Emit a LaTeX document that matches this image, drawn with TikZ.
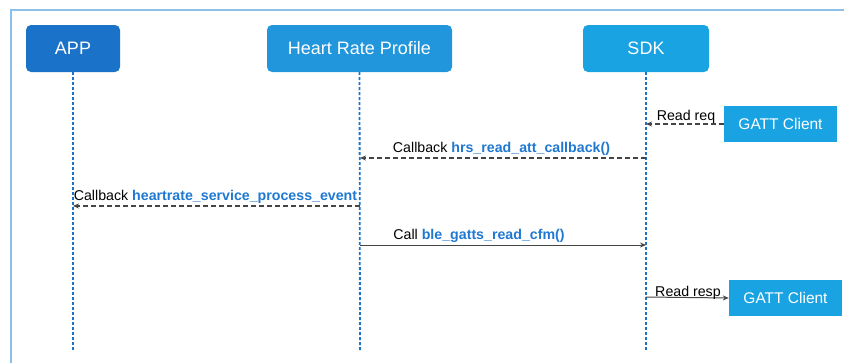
\documentclass[tikz,border=0pt]{standalone}
\usepackage{fontspec}
\setmainfont{Liberation Sans}
\usetikzlibrary{arrows.meta}
\definecolor{frameblue}{HTML}{8CC0E8}
\definecolor{appblue}{HTML}{1A73C8}
\definecolor{hrpblue}{HTML}{2196DD}
\definecolor{sdkblue}{HTML}{1AA3E3}
\definecolor{lifeblue}{HTML}{1A73C8}
\definecolor{fnblue}{HTML}{1F78D1}
\definecolor{arrowgray}{HTML}{454545}
\tikzset{
  x=1pt, y=-1pt,
  lane/.style={rounded corners=5pt, text=white, font=\fontsize{18}{20}\selectfont, inner sep=0pt},
  gatt/.style={fill=sdkblue, text=white, font=\fontsize{15.5}{18}\selectfont, inner sep=0pt, minimum width=113pt, minimum height=36pt},
  lifeline/.style={draw=lifeblue, line width=1.8pt, dash pattern=on 3pt off 2pt},
  msgdash/.style={draw=arrowgray, line width=1.6pt, dash pattern=on 5pt off 3pt, -{Stealth[length=6pt,width=5pt]}},
  msgsolid/.style={draw=arrowgray, line width=1pt, -{Stealth[length=6pt,width=5pt]}},
  lbl/.style={font=\fontsize{14.2}{16}\selectfont, inner sep=0pt, anchor=base},
}
\begin{document}
\begin{tikzpicture}
\useasboundingbox (0,0) rectangle (844,362);
\begin{scope}
\clip (0,0) rectangle (844,362);
\draw[frameblue, line width=2pt] (11,10) rectangle (870,390);
\end{scope}
% lane headers
\node[lane, fill=appblue, minimum width=94pt, minimum height=47pt] (app) at (73,48.5) {APP};
\node[lane, fill=hrpblue, minimum width=185pt, minimum height=47pt] (hrp) at (359.5,48.5) {Heart Rate Profile};
\node[lane, fill=sdkblue, minimum width=126pt, minimum height=47pt] (sdk) at (646,48.5) {SDK};
% lifeline ends
\coordinate (append) at (73,352);
\coordinate (hrpend) at (360,352);
\coordinate (sdkend) at (646,352);
\draw[lifeline] (app.south) -- (append);
\draw[lifeline] (hrp.south) -- (hrpend);
\draw[lifeline] (sdk.south) -- (sdkend);
% GATT clients
\node[gatt] (gc1) at (780.5,124) {GATT Client};
\node[gatt] (gc2) at (785.5,298) {GATT Client};
% message points
\coordinate (m1s) at (646,124);
\coordinate (m2a) at (646,158);
\coordinate (m2b) at (360,158);
\coordinate (m3a) at (360,206);
\coordinate (m3b) at (73,206);
\coordinate (m4a) at (360,245);
\coordinate (m4b) at (646,245);
\coordinate (m5a) at (646,297);
% messages
\draw[msgdash] (gc1.west) -- (m1s);
\node[lbl] (l1) at (686,120) {Read req};
\draw[msgdash] (m2a) -- (m2b);
\node[lbl] (l2) at (501.5,152) {Callback {\bfseries\color{fnblue}hrs\_read\_att\_callback()}};
\draw[msgdash] (m3a) -- (m3b);
\node[lbl] (l3) at (215.5,200) {Callback {\bfseries\color{fnblue}heartrate\_service\_process\_event}};
\draw[msgsolid] (m4a) -- (m4b);
\node[lbl] (l4) at (479,239) {Call {\bfseries\color{fnblue}ble\_gatts\_read\_cfm()}};
\draw[msgsolid] (m5a) -- (gc2.west);
\node[lbl] (l5) at (688,296) {Read resp};
\end{tikzpicture}
\end{document}
